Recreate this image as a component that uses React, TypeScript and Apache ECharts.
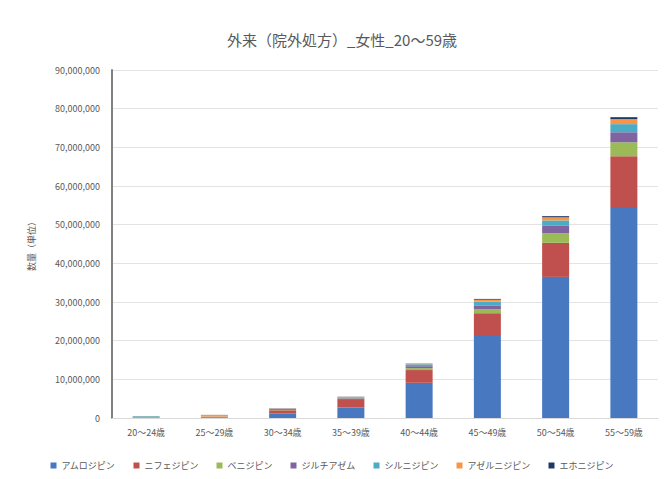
import React, { useEffect, useRef } from "react";
import * as echarts from "echarts";

const categories = ["20～24歳", "25～29歳", "30～34歳", "35～39歳", "40～44歳", "45～49歳", "50～54歳", "55～59歳"];
const seriesNames = ["アムロジピン", "ニフェジピン", "ベニジピン", "ジルチアゼム", "シルニジピン", "アゼルニジピン", "エホニジピン"];
const amlodipine = [80000, 150000, 1200000, 2700000, 9100000, 21200000, 36500000, 54300000];
const nifedipine = [40000, 100000, 800000, 2200000, 3300000, 5900000, 8800000, 13400000];
const benidipine = [10000, 20000, 100000, 150000, 500000, 1000000, 2500000, 3600000];
const diltiazem = [20000, 40000, 300000, 250000, 500000, 900000, 1900000, 2600000];
const cilnidipine = [300000, 50000, 50000, 100000, 500000, 1100000, 1400000, 2100000];
const azelnidipine = [40000, 450000, 50000, 50000, 150000, 500000, 800000, 1300000];
const efonidipine = [0, 10000, 20000, 50000, 50000, 200000, 300000, 500000];
const colors = ["#4878C0", "#C0504D", "#9BBB59", "#8064A2", "#4BACC6", "#F79646", "#1F3864"];
const yTicks = { min: 0, max: 90000000, interval: 10000000 };
const yAxisTitle = "数量（単位）";
const chartTitle = "外来（院外処方）_女性_20～59歳";

export default function App() {
  const ref = useRef<HTMLDivElement>(null);
  useEffect(() => {
    if (!ref.current) return;
    const chart = echarts.init(ref.current, undefined, { renderer: "svg" });
    const values = [amlodipine, nifedipine, benidipine, diltiazem, cilnidipine, azelnidipine, efonidipine];
    const font = "'Noto Sans CJK JP', 'Noto Sans', sans-serif";
    chart.setOption({
      animation: false,
      backgroundColor: "#ffffff",
      textStyle: { fontFamily: font },
      title: {
        text: chartTitle,
        left: 337,
        textAlign: "center",
        top: 27,
        textStyle: { fontSize: 15, fontWeight: "normal", color: "#595959", fontFamily: font },
      },
      legend: {
        data: seriesNames,
        left: "center",
        top: 456,
        itemWidth: 6,
        itemHeight: 6,
        itemGap: 18,
        icon: "rect",
        textStyle: { fontSize: 9, color: "#595959", fontFamily: font },
      },
      grid: { left: 112, right: 6, top: 70, bottom: 61, containLabel: false },
      xAxis: {
        type: "category",
        data: categories,
        axisLine: { lineStyle: { color: "#d9d9d9" } },
        axisTick: { show: false },
        axisLabel: { fontSize: 9, color: "#595959", margin: 10, fontFamily: font },
      },
      yAxis: {
        type: "value",
        min: yTicks.min,
        max: yTicks.max,
        interval: yTicks.interval,
        name: yAxisTitle,
        nameLocation: "middle",
        nameRotate: 90,
        nameGap: 76,
        nameTextStyle: { fontSize: 9, color: "#595959", fontFamily: font },
        axisLine: { show: true, lineStyle: { color: "#808080", width: 2 } },
        axisTick: { show: false },
        splitLine: { lineStyle: { color: "#e3e3e3" } },
        axisLabel: {
          fontSize: 9,
          color: "#595959",
          margin: 12,
          fontFamily: font,
          formatter: (v: number) => v.toLocaleString("en-US"),
        },
      },
      series: seriesNames.map((name, i) => ({
        name,
        type: "bar",
        stack: "total",
        barWidth: 27,
        data: values[i],
        itemStyle: { color: colors[i] },
      })),
    });
    return () => chart.dispose();
  }, []);
  return <div ref={ref} style={{ position: "fixed", left: 0, top: 0, width: 664, height: 479 }} />;
}
